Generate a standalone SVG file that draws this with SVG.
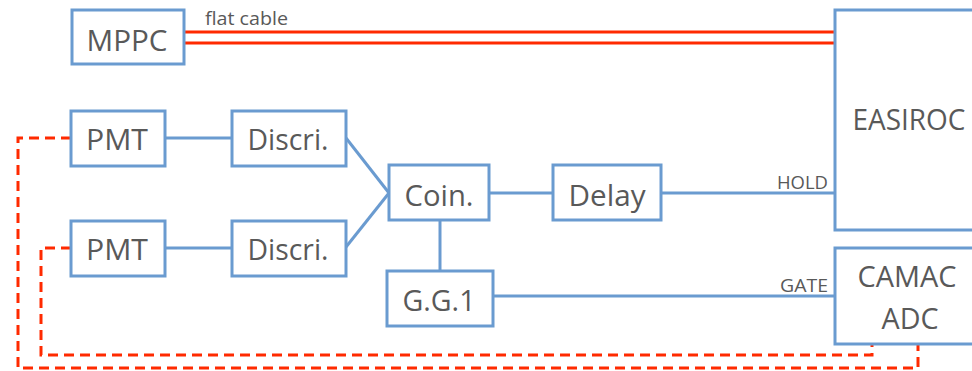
<svg xmlns="http://www.w3.org/2000/svg" width="972" height="371" viewBox="0 0 972 371">
<style>
.box{fill:#fff;stroke:#6a9bd0;stroke-width:3}
.lbl{font-family:"Open Sans","Liberation Sans",Arial,sans-serif;font-size:29px;fill:#595959;text-anchor:middle}
.sm{font-family:"Open Sans","Liberation Sans",Arial,sans-serif;font-size:18px;fill:#595959}
.wire{stroke:#6a9bd0;stroke-width:3;fill:none}
.cable{stroke:#ff2a00;stroke-width:3;fill:none}
.dash{stroke:#ff2a00;stroke-width:3;fill:none;stroke-dasharray:10 6}
</style>
<g id="connectors">
<line class="cable" x1="184" y1="32" x2="835" y2="32"/>
<line class="cable" x1="184" y1="43" x2="835" y2="43"/>
<text class="sm" x="205" y="25" textLength="83" lengthAdjust="spacingAndGlyphs">flat cable</text>
<line class="wire" x1="165" y1="138" x2="232" y2="138"/>
<line class="wire" x1="165" y1="248" x2="232" y2="248"/>
<line class="wire" x1="346" y1="138" x2="389" y2="193"/>
<line class="wire" x1="346" y1="247" x2="389" y2="193"/>
<line class="wire" x1="489" y1="193" x2="553" y2="193"/>
<line class="wire" x1="661" y1="193" x2="835" y2="193"/>
<line class="wire" x1="440" y1="220" x2="440" y2="271"/>
<line class="wire" x1="493" y1="296" x2="835" y2="296"/>
<text class="sm" x="828" y="189" text-anchor="end" textLength="51" lengthAdjust="spacingAndGlyphs">HOLD</text>
<text class="sm" x="828" y="292" text-anchor="end" textLength="48" lengthAdjust="spacingAndGlyphs">GATE</text>
<path class="dash" d="M71,138 H18 V368 H918 V344"/>
<path class="dash" d="M71,248 H41 V355 H872 V344"/>
</g>
<g id="mppc"><rect class="box" x="72" y="10" width="112" height="54"/><text class="lbl" x="127" y="51" textLength="81" lengthAdjust="spacingAndGlyphs">MPPC</text></g>
<g id="pmt1"><rect class="box" x="71" y="111" width="94" height="55"/><text class="lbl" x="117" y="150" textLength="62" lengthAdjust="spacingAndGlyphs">PMT</text></g>
<g id="pmt2"><rect class="box" x="71" y="221" width="94" height="55"/><text class="lbl" x="117" y="260" textLength="62" lengthAdjust="spacingAndGlyphs">PMT</text></g>
<g id="discri1"><rect class="box" x="232" y="111" width="114" height="55"/><text class="lbl" x="288" y="150" textLength="81" lengthAdjust="spacingAndGlyphs">Discri.</text></g>
<g id="discri2"><rect class="box" x="232" y="221" width="114" height="55"/><text class="lbl" x="288" y="260" textLength="81" lengthAdjust="spacingAndGlyphs">Discri.</text></g>
<g id="coin"><rect class="box" x="389" y="165" width="100" height="55"/><text class="lbl" x="439" y="206" textLength="69" lengthAdjust="spacingAndGlyphs">Coin.</text></g>
<g id="delay"><rect class="box" x="553" y="165" width="108" height="55"/><text class="lbl" x="607" y="206" textLength="77" lengthAdjust="spacingAndGlyphs">Delay</text></g>
<g id="gg1"><rect class="box" x="387" y="271" width="106" height="55"/><text class="lbl" x="439" y="311" textLength="73" lengthAdjust="spacingAndGlyphs">G.G.1</text></g>
<g id="easiroc"><rect class="box" x="835" y="10" width="200" height="220"/><text class="lbl" x="909" y="130" textLength="113" lengthAdjust="spacingAndGlyphs">EASIROC</text></g>
<g id="camac"><rect class="box" x="835" y="248" width="200" height="96"/><text class="lbl" x="907" y="287" textLength="99" lengthAdjust="spacingAndGlyphs">CAMAC</text><text class="lbl" x="910" y="329" textLength="57" lengthAdjust="spacingAndGlyphs">ADC</text></g>
</svg>
